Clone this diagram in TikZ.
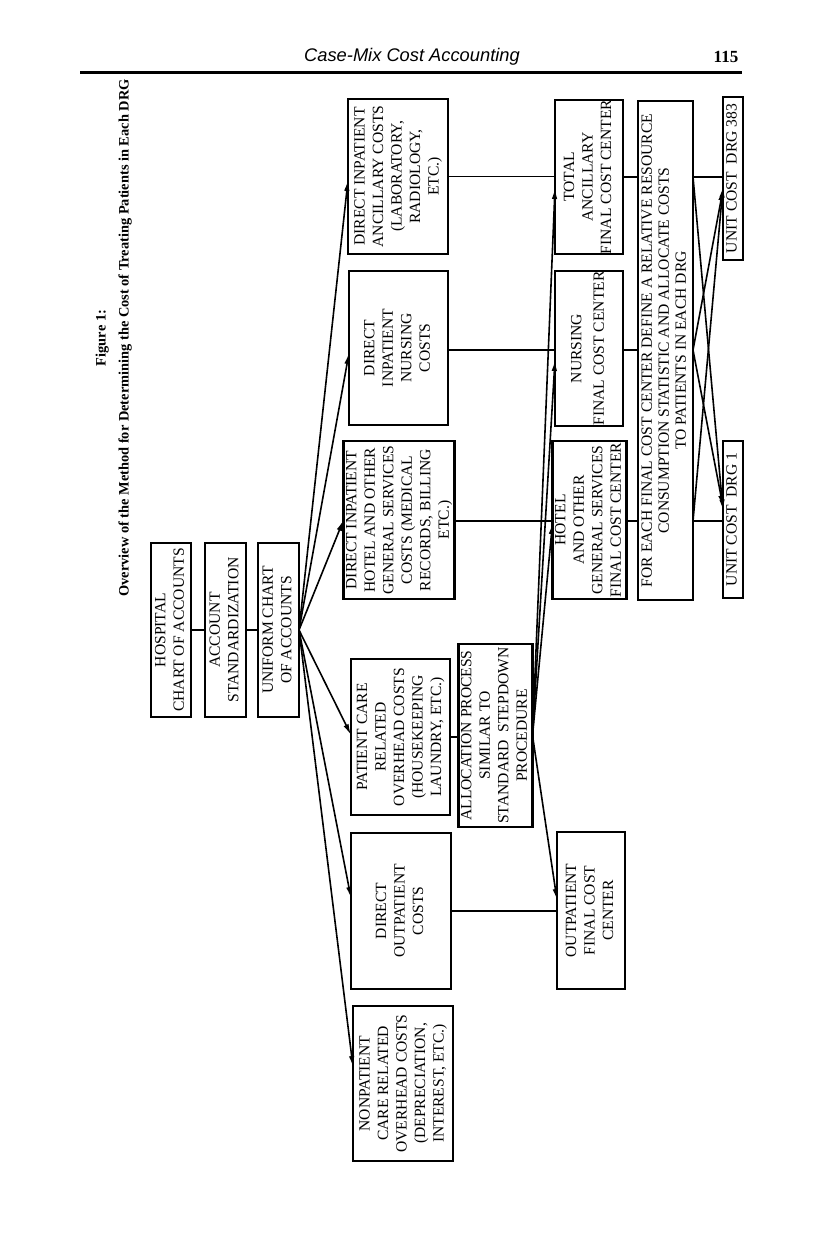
\documentclass[tikz,border=0pt]{standalone}
\usepackage{fontspec}
\setmainfont{Liberation Serif}
\newfontfamily\hdrfont{Liberation Sans}
\usetikzlibrary{arrows.meta,calc}
\newcommand{\rt}[1]{\rotatebox{90}{\begin{tabular}{@{}c@{}}#1\end{tabular}}}
\begin{document}
\begin{tikzpicture}[x=1pt,y=-1pt,
  every node/.style={font=\fontsize{15.6}{18.5}\selectfont},
  box/.style 2 args={draw,line width=2.2pt,inner sep=0pt,outer sep=0pt,minimum width=#1,minimum height=#2},
  ln/.style={line width=1.8pt},
  arr/.style={line width=1.6pt,-{Latex[length=11pt,width=5.5pt]}}]
\useasboundingbox (0,0) rectangle (816,1234);
% header
\node[font=\hdrfont\itshape\fontsize{18.3}{21}\selectfont] (hdr) at (412,57) {Case-Mix Cost Accounting};
\node[font=\bfseries\fontsize{17}{20}\selectfont] (pg) at (726,57) {115};
\draw[line width=3pt] (80,72) -- (742,72);
% title
\node[rotate=90,font=\bfseries\fontsize{14.4}{23}\selectfont] (title) at (112.5,338)
  {\begin{tabular}{@{}c@{}}Figure 1:\\Overview of the Method for Determining the Cost of Treating Patients in Each DRG\end{tabular}};
% left column
\node[box={40pt}{174pt}] (hosp) at (171,630) {\rt{HOSPITAL\\CHART OF ACCOUNTS}};
\node[box={41pt}{174pt}] (acct) at (225.5,630) {\rt{ACCOUNT\\STANDARDIZATION}};
\node[box={41pt}{174pt}] (unif) at (278.5,630) {\rt{UNIFORM CHART\\OF ACCOUNTS}};
% cost categories
\node[box={100pt}{155pt}] (anc) at (398,176.5) {\rt{DIRECT INPATIENT\\ANCILLARY COSTS\\(LABORATORY,\\RADIOLOGY,\\ETC.)}};
\node[box={99pt}{154pt}] (nur) at (398.5,348) {\rt{DIRECT\\INPATIENT\\NURSING\\COSTS}};
\node[box={100pt}{158pt}] (hot) at (399,520) {\rt{DIRECT INPATIENT\\HOTEL AND OTHER\\GENERAL SERVICES\\COSTS (MEDICAL\\RECORDS, BILLING\\ETC.)}};
\node[box={99pt}{156pt}] (pcr) at (400.5,737) {\rt{PATIENT CARE\\RELATED\\OVERHEAD COSTS\\(HOUSEKEEPING\\LAUNDRY, ETC.)}};
\node[box={100pt}{156pt}] (dout) at (401,911) {\rt{DIRECT\\OUTPATIENT\\COSTS}};
\node[box={100pt}{155pt}] (nonp) at (403,1083.5) {\rt{NONPATIENT\\CARE RELATED\\OVERHEAD COSTS\\(DEPRECIATION,\\INTEREST, ETC.)}};
% allocation
\node[box={69pt}{183pt}] (alloc) at (495.5,735.5) {\rt{ALLOCATION PROCESS\\SIMILAR TO\\STANDARD\ \ STEPDOWN\\PROCEDURE}};
% final cost centers
\node[box={68pt}{154pt}] (tanc) at (589,177) {\rt{TOTAL\\ANCILLARY\\FINAL COST CENTER}};
\node[box={68pt}{155pt}] (tnur) at (589,348.5) {\rt{NURSING\\[4pt]FINAL COST CENTER}};
\node[box={67pt}{158pt}] (thot) at (589.5,520) {\rt{HOTEL\\AND OTHER\\GENERAL SERVICES\\FINAL COST CENTER}};
\node[box={68pt}{157pt}] (tout) at (591,910.5) {\rt{OUTPATIENT\\FINAL COST\\CENTER}};
% allocate to DRGs
\node[box={55pt}{499pt},font=\fontsize{15.6}{17}\selectfont] (each) at (665.5,350.5) {\rt{FOR EACH FINAL COST CENTER DEFINE A RELATIVE RESOURCE\\CONSUMPTION STATISTIC AND ALLOCATE COSTS\\TO PATIENTS IN EACH DRG}};
\node[box={20pt}{163pt}] (drgb) at (733,178.5) {\rt{UNIT COST\ \ DRG 383}};
\node[box={20pt}{157pt}] (drga) at (733,519.5) {\rt{UNIT COST\ \ DRG 1}};
% connectors left column
\draw[ln] (hosp.east) -- (acct.west);
\draw[ln] (acct.east) -- (unif.west);
% fan from uniform chart
\draw[arr] (unif.east) -- ($(anc.west)+(0,3.5)$);
\draw[arr] (unif.east) -- ($(nur.west)+(0,5)$);
\draw[arr] (unif.east) -- (hot.west);
\draw[arr] (unif.east) -- ($(pcr.west)+(0,-2)$);
\draw[arr] (unif.east) -- ($(dout.west)+(0,-13)$);
\draw[arr] (unif.east) -- ($(nonp.west)+(0,-16.5)$);
% horizontals to final cost centers
\draw[ln] (anc.east) -- (anc.east -| tanc.west);
\draw[ln] ($(nur.east)+(0,2)$) -- ($(nur.east -| tnur.west)+(0,2)$);
\draw[ln] ($(hot.east)+(0,1)$) -- ($(hot.east -| thot.west)+(0,1)$);
\draw[ln] (pcr.east) -- (pcr.east -| alloc.west);
\draw[ln] (dout.east) -- (dout.east -| tout.west);
% allocation fan
\draw[arr] (alloc.east) -- ($(tanc.west)+(0,11)$);
\draw[arr] (alloc.east) -- ($(tnur.west)+(0,11.5)$);
\draw[arr] (alloc.east) -- ($(thot.west)+(0,3)$);
\draw[arr] (alloc.east) -- ($(tout.west)+(0,-10.5)$);
% final cost centers to allocation box
\draw[ln] (tanc.east) -- (tanc.east -| each.west);
\draw[ln] ($(tnur.east)+(0,1.5)$) -- ($(tnur.east -| each.west)+(0,1.5)$);
\draw[ln] ($(thot.east)+(0,1)$) -- ($(thot.east -| each.west)+(0,1)$);
% to DRGs
\coordinate (e1) at (tanc.east -| each.east);
\coordinate (e2) at ($(tnur.east -| each.east)+(0,1.5)$);
\coordinate (e3) at ($(thot.east -| each.east)+(0,1)$);
\draw[ln] (e1) -- (e1 -| drgb.west);
\draw[ln] (e3) -- (e3 -| drga.west);
\draw[arr] (e1) -- ($(drga.west)+(0,-9)$);
\draw[arr] (e2) -- ($(drga.west)+(0,-13)$);
\draw[arr] (e2) -- ($(drgb.west)+(0,11)$);
\draw[arr] (e3) -- ($(drgb.west)+(0,8)$);
\end{tikzpicture}
\end{document}
